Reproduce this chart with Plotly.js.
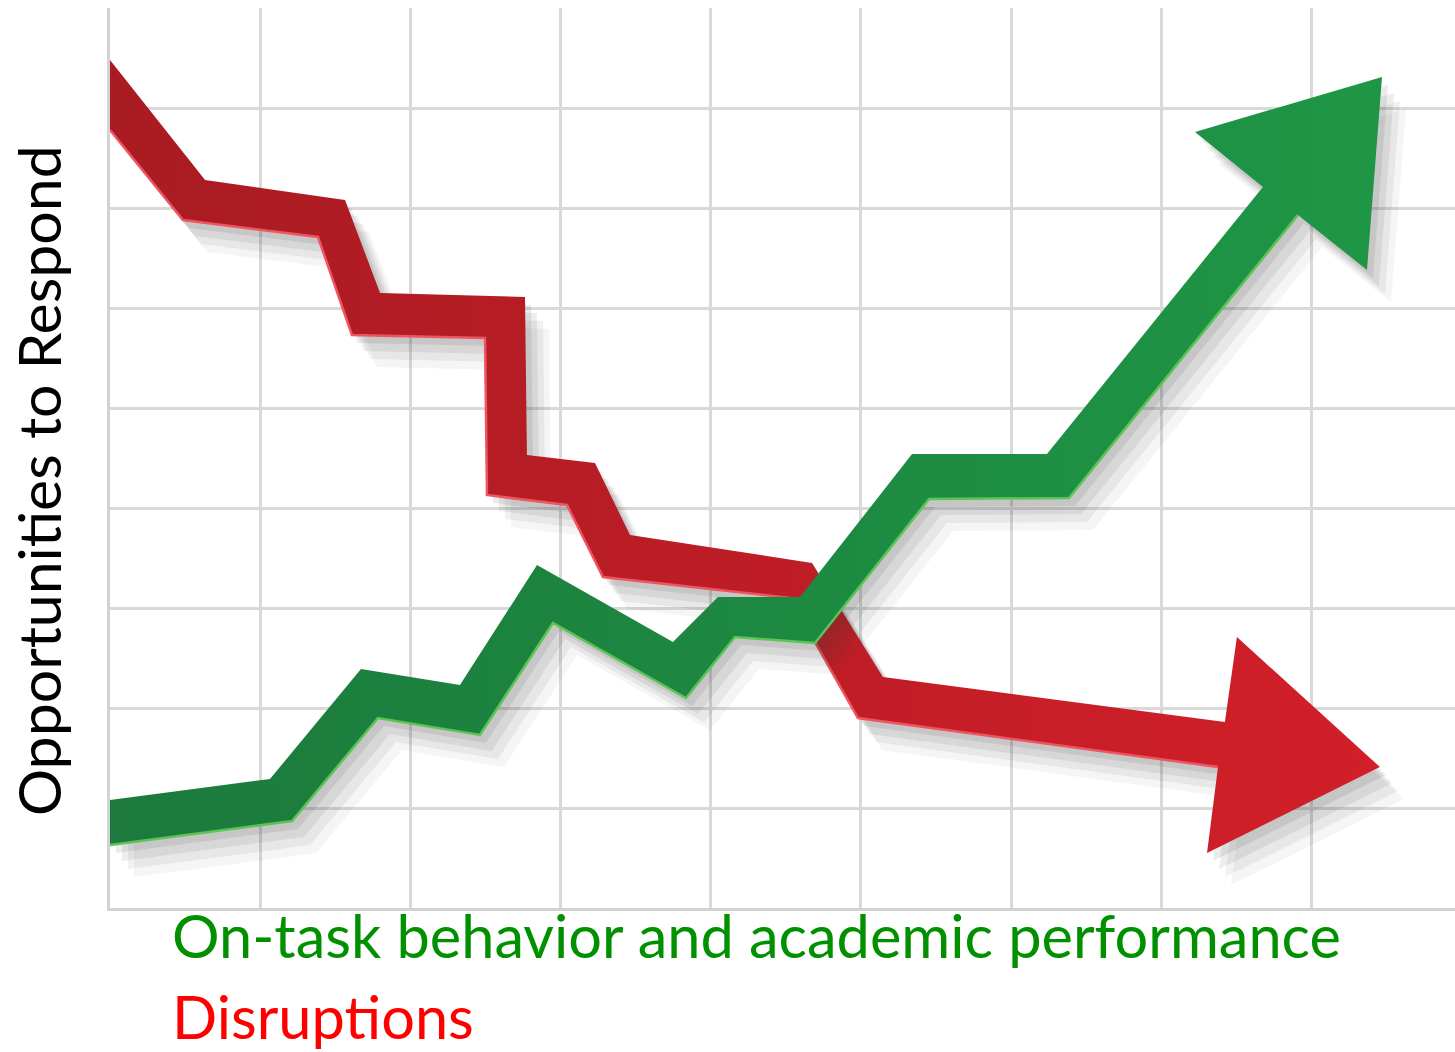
<!DOCTYPE html>
<html>
<head>
<meta charset="utf-8">
<script src="https://cdn.plot.ly/plotly-3.0.1.min.js"></script>
<style>html,body{margin:0;padding:0;background:#fff;}#chart{width:1455px;height:1052px;}</style>
</head>
<body>
<div id="chart"></div>
<script>
// Disruptions ribbon: upper outline (incl. arrow head) and lower outline, left to right
const redUpperX = [0, 0.633, 1.565, 1.798, 2.763, 2.776, 3.229, 3.462, 4.674, 5.146, 7.423, 7.503, 8.455, 7.304];
const redUpperY = [8.48, 7.28, 7.08, 6.15, 6.11, 4.53, 4.45, 3.73, 3.45, 2.31, 1.86, 2.71, 1.41, 0.55];
const redLowerX = [0, 0.486, 1.385, 1.611, 2.497, 2.510, 3.043, 3.282, 4.527, 4.980, 7.377];
const redLowerY = [7.78, 6.88, 6.71, 5.73, 5.70, 4.13, 4.03, 3.31, 3.10, 1.90, 1.41];

// On-task behavior ribbon
const greenUpperX = [0, 1.065, 1.671, 2.330, 2.843, 3.748, 4.048, 4.594, 5.340, 6.238, 7.676, 7.224, 8.469, 8.369];
const greenUpperY = [1.08, 1.29, 2.39, 2.23, 3.43, 2.66, 3.11, 3.11, 4.54, 4.54, 7.21, 7.76, 8.31, 6.38];
const greenLowerX = [0, 1.212, 1.784, 2.463, 2.949, 3.835, 4.161, 4.694, 5.453, 6.385, 7.909];
const greenLowerY = [0.63, 0.87, 1.90, 1.73, 2.85, 2.10, 2.71, 2.65, 4.09, 4.10, 6.93];

const yTitle = 'Opportunities to Respond';
const labelGreen = 'On-task behavior and academic performance';
const labelRed = 'Disruptions';

function outline(ux, uy, lx, ly, dx, dy) {
  const x = ux.concat(lx.slice().reverse()).map(v => v + dx);
  const y = uy.concat(ly.slice().reverse()).map(v => v + dy);
  x.push(x[0]); y.push(y[0]);
  return {x, y};
}

const traces = [];
const shadowLayers = [[0.04, -0.08, 0.10], [0.08, -0.16, 0.09], [0.12, -0.24, 0.07], [0.16, -0.32, 0.05]];

function ribbon(ux, uy, lx, ly, grad, edgeColor) {
  shadowLayers.forEach(s => {
    const o = outline(ux, uy, lx, ly, s[0], s[1]);
    traces.push({x: o.x, y: o.y, type: 'scatter', mode: 'lines', fill: 'toself',
      fillcolor: 'rgba(60,60,60,' + s[2] + ')', line: {width: 0, color: 'rgba(0,0,0,0)'}, hoverinfo: 'skip'});
  });
  const o = outline(ux, uy, lx, ly, 0, 0);
  traces.push({x: o.x, y: o.y, type: 'scatter', mode: 'lines', fill: 'toself',
    fillcolor: grad[1][1],
    fillgradient: {type: 'horizontal', colorscale: grad},
    line: {width: 0, color: 'rgba(0,0,0,0)'}, hoverinfo: 'skip'});
  traces.push({x: lx, y: ly, type: 'scatter', mode: 'lines',
    line: {width: 2.5, color: edgeColor}, hoverinfo: 'skip'});
}

ribbon(redUpperX, redUpperY, redLowerX, redLowerY, [[0, '#a91b22'], [1, '#d21f29']], '#ee5560');
ribbon(greenUpperX, greenUpperY, greenLowerX, greenLowerY, [[0, '#1b7a3c'], [1, '#1f9646']], '#5cc455');

const layout = {
  width: 1455, height: 1052,
  margin: {l: 110, r: 0, t: 8, b: 144, pad: 0},
  paper_bgcolor: '#ffffff', plot_bgcolor: '#ffffff',
  showlegend: false,
  xaxis: {range: [0, 8.955], dtick: 1, tick0: 0, showgrid: true, gridcolor: '#d9d9d9', gridwidth: 3,
    zeroline: false, showticklabels: false, ticks: '', showline: true, linecolor: '#d2d2d2', linewidth: 3, fixedrange: true},
  yaxis: {range: [0, 9], dtick: 1, tick0: 0, showgrid: true, gridcolor: '#d9d9d9', gridwidth: 3,
    zeroline: false, showticklabels: false, ticks: '', showline: true, linecolor: '#d2d2d2', linewidth: 3, fixedrange: true},
  annotations: [
    {text: yTitle, xref: 'paper', yref: 'paper', x: -0.0535, y: 0.4744, xanchor: 'center', yanchor: 'middle',
      textangle: -90, showarrow: false, font: {family: 'Lato, sans-serif', size: 59, color: '#000000'}},
    {text: labelGreen, xref: 'paper', yref: 'paper', x: 0.0445, y: -0.0300, xanchor: 'left', yanchor: 'middle',
      showarrow: false, font: {family: 'Lato, sans-serif', size: 59.5, color: '#009000'}},
    {text: labelRed, xref: 'paper', yref: 'paper', x: 0.0445, y: -0.1200, xanchor: 'left', yanchor: 'middle',
      showarrow: false, font: {family: 'Lato, sans-serif', size: 59.5, color: '#ff0000'}}
  ]
};

Plotly.newPlot('chart', traces, layout, {staticPlot: true, displayModeBar: false});
</script>
</body>
</html>
